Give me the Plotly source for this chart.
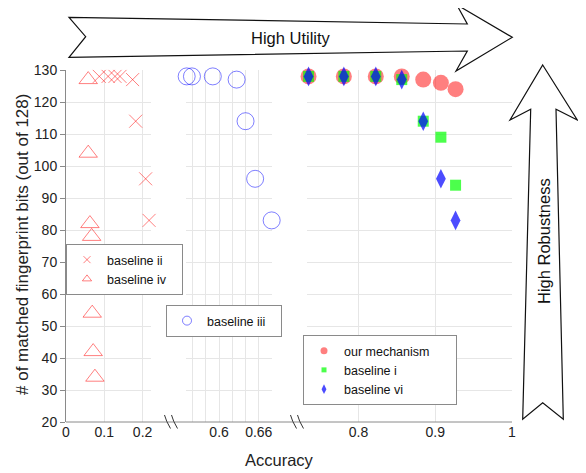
import plotly.graph_objects as go

# ---------------- data ----------------
acc_ii = [0.087, 0.110, 0.128, 0.141, 0.174, 0.182, 0.208, 0.217]
bits_ii = [128, 128, 128, 128, 127, 114, 96, 83]

acc_iv = [0.058, 0.058, 0.0625, 0.067, 0.0685, 0.071, 0.0755]
bits_iv = [127, 104, 82, 78, 54, 42, 34]

acc_iii = [0.551, 0.559, 0.5905, 0.6265, 0.640, 0.6545, 0.6795]
bits_iii = [128, 128, 128, 127, 114, 96, 83]

acc_ours = [0.735, 0.781, 0.8226, 0.8564, 0.8844, 0.9074, 0.9265]
bits_ours = [128, 128, 128, 128, 127, 126, 124]

acc_i = [0.735, 0.781, 0.8226, 0.8564, 0.8844, 0.9074, 0.9265]
bits_i = [128, 128, 128, 127, 114, 109, 94]

acc_vi = [0.735, 0.781, 0.8226, 0.8564, 0.8844, 0.9074, 0.9265]
bits_vi = [128, 128, 128, 127, 114, 96, 83]

x_left_ticks = [0, 0.1, 0.2]
x_left_text = ["0", "0.1", "0.2"]
x_mid_ticks = [0.56, 0.58, 0.60, 0.62, 0.64, 0.66]
x_mid_text = ["", "", "0.6", "", "", "0.66"]
x_right_ticks = [0.8, 0.9, 1.0]
x_right_text = ["0.8", "0.9", "1"]
y_ticks = list(range(20, 131, 10))

# ---------------- style ----------------
FONT = "Liberation Sans, Arial, Helvetica, sans-serif"
RED = "rgba(255,0,0,0.5)"
GREEN = "rgba(0,255,0,0.7)"
BLUE = "rgba(0,0,255,0.7)"
BLUE_OPEN = "rgba(0,0,255,0.5)"
GRID = "#e6e6e6"
AXIS = "#8a8a8a"

# the page body has an 8px margin: the figure is shrunk and shifted by it
OFF = 8
W, H = 586 - OFF, 473 - OFF
L, R, T, B = 66, 512, 70, 422   # plot area in window pixels


def pxx(px):
    return (px - L) / (R - L)


def pxy(py):
    return (B - py) / (B - T)


def path(points, close=True):
    s = "M " + " L ".join(f"{pxx(x):.5f},{pxy(y):.5f}" for x, y in points)
    return s + (" Z" if close else "")


fig = go.Figure()

# data traces
fig.add_trace(go.Scatter(x=acc_iv, y=bits_iv, mode="markers", xaxis="x", yaxis="y",
                         marker=dict(symbol="triangle-up-open", size=16, color=RED,
                                     line=dict(width=1, color=RED)),
                         showlegend=False, cliponaxis=False, hoverinfo="skip"))
fig.add_trace(go.Scatter(x=acc_ii, y=bits_ii, mode="markers", xaxis="x", yaxis="y",
                         marker=dict(symbol="x-thin-open", size=13, color=RED,
                                     line=dict(width=1, color=RED)),
                         showlegend=False, cliponaxis=False, hoverinfo="skip"))
fig.add_trace(go.Scatter(x=acc_iii, y=bits_iii, mode="markers", xaxis="x2", yaxis="y",
                         marker=dict(symbol="circle-open", size=17, color=BLUE_OPEN,
                                     line=dict(width=1, color=BLUE_OPEN)),
                         showlegend=False, cliponaxis=False, hoverinfo="skip"))
fig.add_trace(go.Scatter(x=acc_ours, y=bits_ours, mode="markers", xaxis="x3", yaxis="y",
                         marker=dict(symbol="circle", size=16, color=RED, line=dict(width=0)),
                         showlegend=False, cliponaxis=False, hoverinfo="skip"))
fig.add_trace(go.Scatter(x=acc_i, y=bits_i, mode="markers", xaxis="x3", yaxis="y",
                         marker=dict(symbol="square", size=11, color=GREEN, line=dict(width=0)),
                         showlegend=False, cliponaxis=False, hoverinfo="skip"))
fig.add_trace(go.Scatter(x=acc_vi, y=bits_vi, mode="markers", xaxis="x3", yaxis="y",
                         marker=dict(symbol="diamond-tall", size=14, color=BLUE, line=dict(width=0)),
                         showlegend=False, cliponaxis=False, hoverinfo="skip"))


# legend-only entries (small symbols like the reference)
def leg(name, legend, xa, symbol, size, color, lw=0):
    fig.add_trace(go.Scatter(x=[None], y=[None], mode="markers", name=name, legend=legend,
                             xaxis=xa, yaxis="y",
                             marker=dict(symbol=symbol, size=size, color=color,
                                         line=dict(width=lw, color=color))))


NB = "\u00a0"
leg("baseline ii" + NB * 3, "legend4", "x", "x-thin-open", 7, RED, 1)
leg("baseline iv" + NB * 3, "legend4", "x", "triangle-up-open", 8, RED, 1)
leg("baseline iii" + NB * 3, "legend2", "x2", "circle-open", 9, BLUE_OPEN, 1)
leg("our mechanism" + NB * 6, "legend3", "x3", "circle", 7, RED)
leg("baseline i", "legend3", "x3", "square", 5, GREEN)
leg("baseline vi", "legend3", "x3", "diamond-tall", 7, BLUE)

tickfont = dict(family=FONT, size=14, color="#222")
xcommon = dict(showline=False, zeroline=False, showgrid=True, gridcolor=GRID, gridwidth=1,
               ticks="", tickfont=tickfont, anchor="y", tickmode="array")
legfont = dict(family=FONT, size=12.5, color="#111")
legcommon = dict(xanchor="left", yanchor="top", bgcolor="white", bordercolor=AXIS,
                 borderwidth=1, font=legfont, itemwidth=30, tracegroupgap=0)

fig.update_layout(
    width=W, height=H,
    margin=dict(l=L - OFF, r=W - (R - OFF), t=T - OFF, b=H - (B - OFF), pad=0),
    paper_bgcolor="white", plot_bgcolor="white",
    font=dict(family=FONT, color="#222"),
    xaxis=dict(domain=[pxx(66), pxx(151)], range=[0, 0.222],
               tickvals=x_left_ticks, ticktext=x_left_text, **xcommon),
    xaxis2=dict(domain=[pxx(186), pxx(272)], range=[0.55, 0.68],
                tickvals=x_mid_ticks, ticktext=x_mid_text, **xcommon),
    xaxis3=dict(domain=[pxx(307), pxx(512)], range=[0.733, 1.0],
                tickvals=x_right_ticks, ticktext=x_right_text, **xcommon),
    yaxis=dict(domain=[0, 1], range=[20, 130], tickvals=y_ticks, anchor="x",
               showgrid=True, gridcolor=GRID, zeroline=False,
               showline=True, linecolor=AXIS, linewidth=1,
               ticks="outside", ticklen=5, tickcolor=AXIS, tickfont=tickfont),
    legend4=dict(x=0, y=pxy(244), **legcommon),
    legend2=dict(x=pxx(166), y=pxy(305), **legcommon),
    legend3=dict(x=pxx(303), y=pxy(335), **legcommon),
)

shapes = []
# bottom axis line across the broken segments
shapes.append(dict(type="line", xref="paper", yref="paper", x0=0, x1=1, y0=0, y1=0,
                   line=dict(color=AXIS, width=1), layer="above"))
# axis break marks
for bx in (164.5, 171.5, 290.5, 297.5):
    p = (f"M {pxx(bx):.5f},{pxy(415):.5f} Q {pxx(bx + 1.5):.5f},{pxy(421):.5f} "
         f"{pxx(bx + 6):.5f},{pxy(428.5):.5f}")
    shapes.append(dict(type="path", xref="paper", yref="paper", path=p,
                       line=dict(color="#333", width=1), layer="above"))

# "High Utility" arrow
h_arrow = [(69, 17.3), (467.3, 24), (456.7, 4.7), (512.3, 37.3), (456, 71),
           (467.3, 51), (69, 57.3), (85.7, 36.7)]
shapes.append(dict(type="path", xref="paper", yref="paper", path=path(h_arrow),
                   fillcolor="white", line=dict(color="#111", width=1.2), layer="above"))
# "High Robustness" arrow
v_arrow = [(542.7, 65), (577.3, 120), (556, 109.3), (563.3, 419.3), (542.7, 402.7),
           (522.7, 419.3), (530.7, 109.3), (510, 120)]
shapes.append(dict(type="path", xref="paper", yref="paper", path=path(v_arrow),
                   fillcolor="white", line=dict(color="#111", width=1.2), layer="above"))
fig.update_layout(shapes=shapes)

annotations = [
    dict(text="# of matched fingerprint bits (out of 128)", x=pxx(22), y=pxy(245),
         textangle=-90, font=dict(family=FONT, size=17, color="#222")),
    dict(text="Accuracy", x=pxx(279), y=pxy(460), font=dict(family=FONT, size=16.5, color="#222")),
    dict(text="High Utility", x=pxx(291), y=pxy(38), font=dict(family=FONT, size=16.5, color="#111")),
    dict(text="High Robustness", x=pxx(544), y=pxy(241), textangle=-90,
         font=dict(family=FONT, size=16.5, color="#111")),
]
for a in annotations:
    a.update(xref="paper", yref="paper", showarrow=False, xanchor="center", yanchor="middle")
fig.update_layout(annotations=annotations)

fig.write_html("out.html")
